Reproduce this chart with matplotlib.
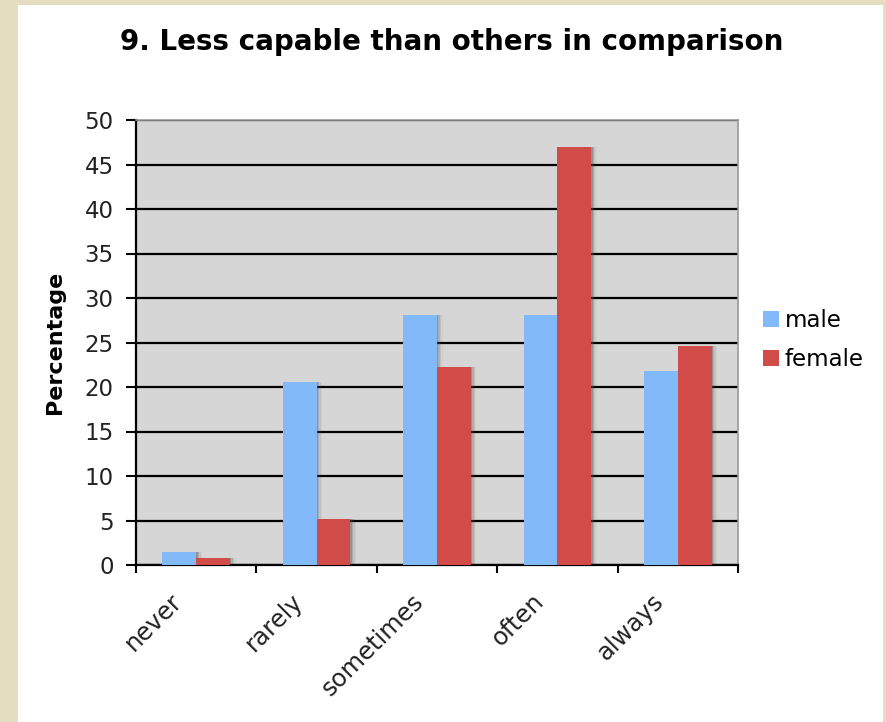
import numpy as np
import matplotlib.pyplot as plt
from matplotlib.patches import Rectangle
from matplotlib.transforms import ScaledTranslation

# survey answers, percent of each group
categories = ["never", "rarely", "sometimes", "often", "always"]
male = [1.5, 20.6, 28.1, 28.1, 21.8]
female = [0.8, 5.2, 22.2, 47.0, 24.6]

blue = "#82b9f9"
red = "#d14b48"

fig = plt.figure(figsize=(8.86, 7.22), dpi=100)
fig.patch.set_facecolor("#e4ddc0")

# white card behind the chart
fig.patches.append(Rectangle((18 / 886, 0), 865 / 886, 717 / 722,
                             transform=fig.transFigure, facecolor="white",
                             edgecolor="none", zorder=-10))

ax = fig.add_axes([136 / 886, 1 - 565 / 722, 602 / 886, 445 / 722])
ax.set_facecolor("#d6d6d6")

x = np.arange(len(categories))
w = 0.28

# soft shadow on the right of each bar
for dx, a in [(0.012, 0.3), (0.024, 0.18), (0.036, 0.1), (0.048, 0.05)]:
    ax.bar(x - w / 2 + dx, male, w, color="#555555", alpha=a, zorder=2, linewidth=0)
    ax.bar(x + w / 2 + dx, female, w, color="#555555", alpha=a, zorder=2, linewidth=0)

ax.bar(x - w / 2, male, w, color=blue, label="male", zorder=3, linewidth=0)
ax.bar(x + w / 2, female, w, color=red, label="female", zorder=3, linewidth=0)

ax.set_xlim(-0.5, len(categories) - 0.5)
ax.set_ylim(0, 50)
ax.set_yticks(range(0, 51, 5))
ax.yaxis.grid(True, color="black", linewidth=1.6, zorder=1)
ax.set_axisbelow(True)

# ticks sit between the categories; category names drawn as slanted text
ax.set_xticks(np.arange(-0.5, len(categories)))
ax.set_xticklabels([])
ax.tick_params(axis="x", length=6, width=1.5, direction="out")
shift = ScaledTranslation(-26 / 100, -24 / 100, fig.dpi_scale_trans)
for xi, name in zip(x, categories):
    ax.text(xi, 0, name, transform=ax.get_xaxis_transform() + shift,
            rotation=45, rotation_mode="anchor", ha="right", va="top",
            fontsize=17.5, color="#222222")

ax.tick_params(axis="y", length=7, width=1.5, labelsize=16.5,
               labelcolor="#222222", pad=9)

for s in ["left", "bottom"]:
    ax.spines[s].set_color("black")
    ax.spines[s].set_linewidth(1.6)
for s in ["top", "right"]:
    ax.spines[s].set_color("#999999")
    ax.spines[s].set_linewidth(1.2)

ax.set_ylabel("Percentage", fontsize=16, fontweight="bold", labelpad=14)
fig.text(452 / 886, 1 - 42 / 722, "9. Less capable than others in comparison",
         ha="center", va="center", fontsize=20, fontweight="bold")

leg = fig.legend(loc="center left", bbox_to_anchor=(754 / 886, 1 - 340 / 722),
                 frameon=False, fontsize=16.5, handlelength=0.7, handleheight=0.7,
                 handletextpad=0.25, labelspacing=0.7, borderaxespad=0)

fig.savefig("out.png", dpi=100, facecolor=fig.get_facecolor())
